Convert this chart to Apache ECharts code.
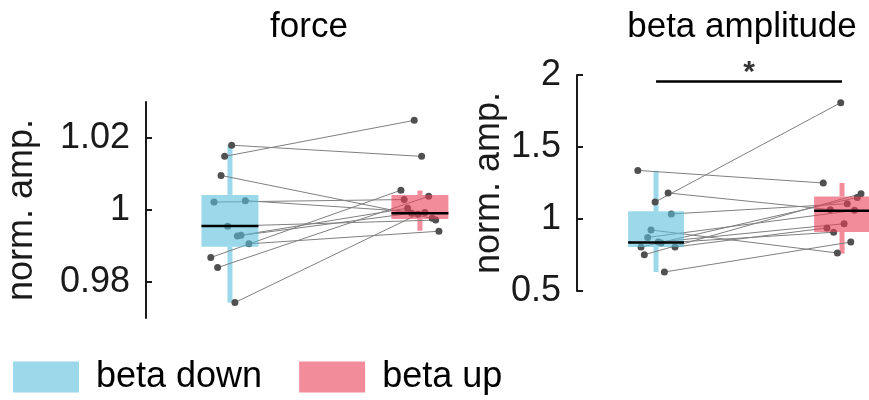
<!DOCTYPE html>
<html>
<head>
<meta charset="utf-8">
<script src="https://cdn.jsdelivr.net/npm/echarts@6/dist/echarts.min.js"></script>
<style>
  html, body { margin: 0; padding: 0; background: #fff; }
  #main { width: 869px; height: 400px; }
</style>
</head>
<body>
<div id="main"></div>
<script>
// groups and their x position on each panel
var groups = ['beta down', 'beta up'];
var groupPos = [1, 2];
var panelTitles = ['force', 'beta amplitude'];
var yName = 'norm. amp.';

// force panel: paired subjects (same index = same subject)
var forceDown = [1.0180, 1.0149, 1.0096, 1.0022, 1.0026, 0.9955, 0.9928, 0.9930, 0.9906, 0.9868, 0.9840, 0.9743];
var forceUp   = [1.0149, 1.0249, 0.9977, 1.0029, 0.9993, 0.9972, 0.9991, 1.0005, 0.9941, 1.0055, 1.0038, 0.9988];
var forceJitterDown = [0.009, -0.028, -0.047, -0.084, 0.081, -0.012, 0.039, 0.058, 0.100, -0.101, -0.065, 0.026];
var forceJitterUp   = [0.009, -0.030, 0.065, -0.083, 0.026, 0.083, -0.044, -0.065, 0.100, -0.100, 0.046, -0.010];
// box stats: [low whisker, q1, median, q3, high whisker]
var forceBoxDown = [0.9743, 0.9898, 0.99554, 1.0042, 1.0181];
var forceBoxUp   = [0.99423, 0.9975, 0.99908, 1.0042, 1.0054];
var forceTicks = [0.98, 1, 1.02];

// beta amplitude panel
var betaDown = [1.3375, 1.1806, 1.118, 1.035, 0.9236, 0.872, 0.8056, 0.840, 0.833, 0.8056, 0.752, 0.632];
var betaUp   = [1.25, 1.065, 1.8076, 1.106, 0.764, 1.06, 1.150, 0.967, 0.908, 0.938, 1.176, 0.840];
var betaJitterDown = [-0.098, 0.065, -0.005, 0.082, -0.027, -0.045, -0.081, 0.012, 0.027, 0.102, -0.063, 0.045];
var betaJitterUp   = [-0.101, -0.063, -0.007, 0.028, -0.025, 0.067, 0.082, 0.011, -0.045, -0.081, 0.102, 0.047];
var betaBoxDown = [0.632, 0.806, 0.8375, 1.053, 1.335];
var betaBoxUp   = [0.759, 0.91, 1.058, 1.157, 1.25];
var betaTicks = [0.5, 1, 1.5, 2];
// significance bar between the groups
var sigLevel = 1.955;
var sigText = '*';

var FONT = '"Liberation Sans", Arial, Helvetica, sans-serif';
var colors = ['rgba(88,192,220,0.6)', 'rgba(233,63,88,0.6)'];
var whiskerColors = ['#9bd9ea', '#f28c9b'];
var BOX_HALF = 0.15;
var INK = '#1a1a1a';

var chart = echarts.init(document.getElementById('main'));

function renderWhisker(params, api) {
  var x = api.value(0);
  var lo = api.coord([x, api.value(1)]);
  var q1 = api.coord([x, api.value(2)]);
  var q3 = api.coord([x, api.value(4)]);
  var hi = api.coord([x, api.value(5)]);
  var st = {stroke: api.visual('color'), lineWidth: 5};
  return {type: 'group', children: [
    {type: 'line', shape: {x1: lo[0], y1: lo[1], x2: q1[0], y2: q1[1]}, style: st},
    {type: 'line', shape: {x1: q3[0], y1: q3[1], x2: hi[0], y2: hi[1]}, style: st}
  ]};
}

function renderBox(params, api) {
  var x = api.value(0);
  var p1 = api.coord([x - BOX_HALF, api.value(2)]);
  var p2 = api.coord([x + BOX_HALF, api.value(4)]);
  var m1 = api.coord([x - BOX_HALF, api.value(3)]);
  var m2 = api.coord([x + BOX_HALF, api.value(3)]);
  return {type: 'group', children: [
    {type: 'rect', shape: {x: p1[0], y: p2[1], width: p2[0] - p1[0], height: p1[1] - p2[1]},
      style: {fill: api.visual('color')}},
    {type: 'line', shape: {x1: m1[0], y1: m1[1], x2: m2[0], y2: m2[1]},
      style: {stroke: '#000', lineWidth: 2.5}}
  ]};
}

function renderPair(params, api) {
  var a = api.coord([api.value(0), api.value(1)]);
  var b = api.coord([api.value(2), api.value(3)]);
  return {type: 'line', shape: {x1: a[0], y1: a[1], x2: b[0], y2: b[1]},
    style: {stroke: '#7f7f7f', lineWidth: 1}};
}

function panelSeries(idx, down, up, jDown, jUp, boxDown, boxUp) {
  var boxes = [boxDown, boxUp];
  var pts = [down, up];
  var jit = [jDown, jUp];
  var out = [];
  groups.forEach(function (g, k) {
    out.push({
      type: 'custom', name: g + ' whisker', xAxisIndex: idx, yAxisIndex: idx, z: 1,
      itemStyle: {color: whiskerColors[k]}, clip: false, silent: true,
      renderItem: renderWhisker, data: [[groupPos[k]].concat(boxes[k])]
    });
  });
  out.push({
    type: 'custom', xAxisIndex: idx, yAxisIndex: idx, z: 2, silent: true, clip: false,
    renderItem: renderPair,
    data: down.map(function (v, i) {
      return [groupPos[0] + jDown[i], v, groupPos[1] + jUp[i], up[i]];
    })
  });
  groups.forEach(function (g, k) {
    out.push({
      type: 'scatter', xAxisIndex: idx, yAxisIndex: idx, z: 3, silent: true,
      symbolSize: 7, itemStyle: {color: '#505050', opacity: 1},
      data: pts[k].map(function (v, i) { return [groupPos[k] + jit[k][i], v]; })
    });
  });
  groups.forEach(function (g, k) {
    out.push({
      type: 'custom', name: g, xAxisIndex: idx, yAxisIndex: idx, z: 4, clip: false,
      itemStyle: {color: colors[k]}, silent: true,
      renderItem: renderBox, data: [[groupPos[k]].concat(boxes[k])]
    });
  });
  return out;
}

function yAxisFor(idx, min, max, ticks, interval, gap) {
  return {
    gridIndex: idx, type: 'value', min: min, max: max, interval: interval,
    axisLine: {show: true, lineStyle: {color: INK, width: 2}},
    axisTick: {show: true, inside: true, length: 6, lineStyle: {color: INK, width: 2}, customValues: ticks},
    axisLabel: {customValues: ticks, fontSize: 36, color: INK, margin: 16, fontFamily: FONT},
    splitLine: {show: false},
    name: yName, nameLocation: 'middle', nameGap: gap,
    nameTextStyle: {fontSize: 36, color: INK, fontFamily: FONT}
  };
}

var series = []
  .concat(panelSeries(0, forceDown, forceUp, forceJitterDown, forceJitterUp, forceBoxDown, forceBoxUp))
  .concat(panelSeries(1, betaDown, betaUp, betaJitterDown, betaJitterUp, betaBoxDown, betaBoxUp));

// significance bar + star
series.push({
  type: 'line', xAxisIndex: 1, yAxisIndex: 1, z: 5, silent: true, symbol: 'none',
  lineStyle: {color: '#000', width: 2.5},
  data: [[groupPos[0], sigLevel], [groupPos[1], sigLevel]]
});
series.push({
  type: 'scatter', xAxisIndex: 1, yAxisIndex: 1, z: 5, silent: true, symbolSize: 0,
  label: {show: true, position: 'top', distance: -6, formatter: sigText, fontSize: 30,
    fontWeight: 'bold', color: '#000', fontFamily: FONT},
  data: [[(groupPos[0] + groupPos[1]) / 2, sigLevel]]
});

var option = {
  animation: false,
  textStyle: {fontFamily: FONT},
  grid: [
    {left: 146, top: 102, width: 314, height: 216},
    {left: 577, top: 75, width: 292, height: 216}
  ],
  xAxis: [
    {gridIndex: 0, type: 'value', min: 0.558, max: 2.211, show: false},
    {gridIndex: 1, type: 'value', min: 0.575, max: 2.145, show: false}
  ],
  yAxis: [
    yAxisFor(0, 0.97, 1.03, forceTicks, 0.01, 106),
    yAxisFor(1, 0.5, 2, betaTicks, 0.5, 67)
  ],
  legend: {
    data: groups, left: 8, top: 354, itemWidth: 66, itemHeight: 31, itemGap: 37,
    icon: 'rect', selectedMode: false,
    textStyle: {fontSize: 36, color: '#000', fontFamily: FONT, padding: [0, 0, 8, 12]}
  },
  graphic: [
    {type: 'text', x: 309, y: 27, silent: true,
      style: {text: panelTitles[0], fontSize: 35, fill: '#000', fontFamily: FONT, align: 'center', verticalAlign: 'middle'}},
    {type: 'text', x: 742, y: 27, silent: true,
      style: {text: panelTitles[1], fontSize: 35, fill: '#000', fontFamily: FONT, align: 'center', verticalAlign: 'middle'}}
  ],
  series: series
};
chart.setOption(option);

window.addEventListener('resize', function () {
  chart.resize();
});
</script>
</body>
</html>
